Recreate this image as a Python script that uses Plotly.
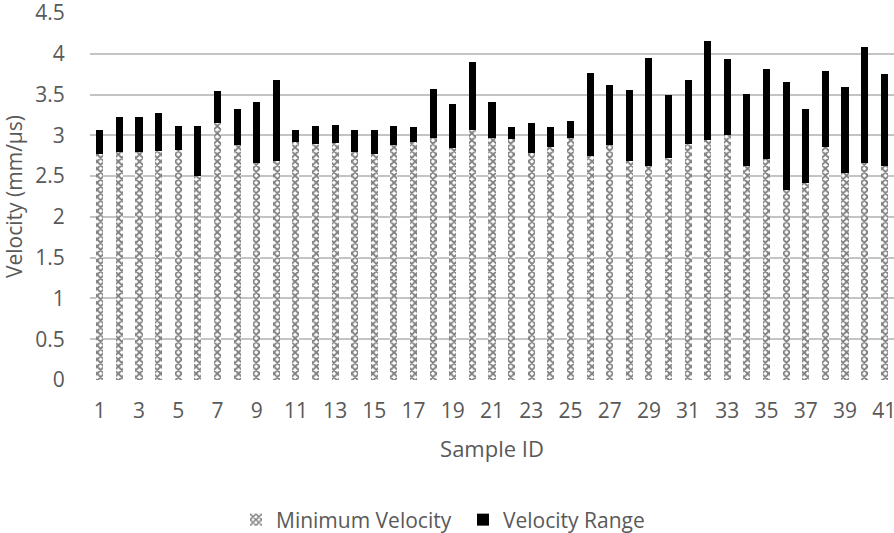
import plotly.graph_objects as go

sample_ids = list(range(1, 42))
min_velocity = [2.77, 2.79, 2.80, 2.81, 2.82, 2.50, 3.15, 2.88, 2.66, 2.68,
                2.92, 2.89, 2.91, 2.79, 2.77, 2.88, 2.92, 2.97, 2.84, 3.07,
                2.97, 2.96, 2.78, 2.86, 2.97, 2.75, 2.88, 2.69, 2.63, 2.72,
                2.89, 2.94, 3.00, 2.63, 2.71, 2.33, 2.42, 2.86, 2.54, 2.66, 2.62]
max_velocity = [3.07, 3.23, 3.23, 3.28, 3.12, 3.12, 3.54, 3.32, 3.41, 3.68,
                3.07, 3.12, 3.13, 3.07, 3.07, 3.12, 3.10, 3.57, 3.39, 3.90,
                3.41, 3.10, 3.15, 3.10, 3.18, 3.76, 3.62, 3.56, 3.95, 3.50,
                3.68, 4.16, 3.93, 3.51, 3.81, 3.65, 3.32, 3.79, 3.59, 4.08, 3.75]
velocity_range = [round(mx - mn, 3) for mx, mn in zip(max_velocity, min_velocity)]
x_tick_vals = list(range(1, 42, 2))
y_tick_vals = [0, 0.5, 1, 1.5, 2, 2.5, 3, 3.5, 4, 4.5]

font_family = "'Open Sans', 'Liberation Sans', sans-serif"
text_color = "#595959"
fs = 21

fig = go.Figure()
fig.add_trace(go.Bar(
    x=sample_ids, y=min_velocity, name="Minimum Velocity",
    marker=dict(color="white", line=dict(width=0),
                pattern=dict(shape="x", fgcolor="black", bgcolor="white",
                             size=5, solidity=0.6)),
))
fig.add_trace(go.Bar(
    x=sample_ids, y=velocity_range, name="Velocity Range",
    marker=dict(color="black", line=dict(width=0)),
))

fig.update_layout(
    barmode="stack",
    bargap=0.64,
    width=894, height=533,
    margin=dict(l=90, r=0, t=13, b=153, autoexpand=False),
    paper_bgcolor="white", plot_bgcolor="white",
    font=dict(family=font_family, size=fs, color=text_color),
    showlegend=True,
    legend=dict(orientation="h", xref="container", x=236 / 894, xanchor="left",
                yref="container", y=13 / 533, yanchor="middle",
                font=dict(size=fs, color=text_color), itemwidth=30,
                entrywidth=182, entrywidthmode="pixels",
                traceorder="normal"),
)
fig.update_xaxes(
    range=[0.5, 41.5], tickmode="array", tickvals=x_tick_vals,
    ticktext=[str(v) for v in x_tick_vals], ticks="outside", ticklen=12,
    tickcolor="rgba(0,0,0,0)", showgrid=False, zeroline=False,
    showline=False, ticklabeloverflow="allow",
    title=dict(text="Sample ID", standoff=18, font=dict(size=22, color=text_color)),
    tickfont=dict(size=fs, color=text_color),
)
fig.update_yaxes(
    range=[0, 4.5], tickmode="array", tickvals=y_tick_vals,
    ticktext=[f"{v:g}" for v in y_tick_vals],
    ticks="outside", ticklen=20, tickcolor="rgba(0,0,0,0)",
    showgrid=True, gridcolor="#c4c4c4", gridwidth=1.5, zeroline=False,
    ticklabeloverflow="allow",
    title=dict(text="Velocity (mm/µs)", standoff=8, font=dict(size=fs, color=text_color)),
    tickfont=dict(size=fs, color=text_color),
)

fig.write_html("out.html", config={"displayModeBar": False},
               post_script="document.body.style.margin='0';document.body.style.overflow='hidden';")
